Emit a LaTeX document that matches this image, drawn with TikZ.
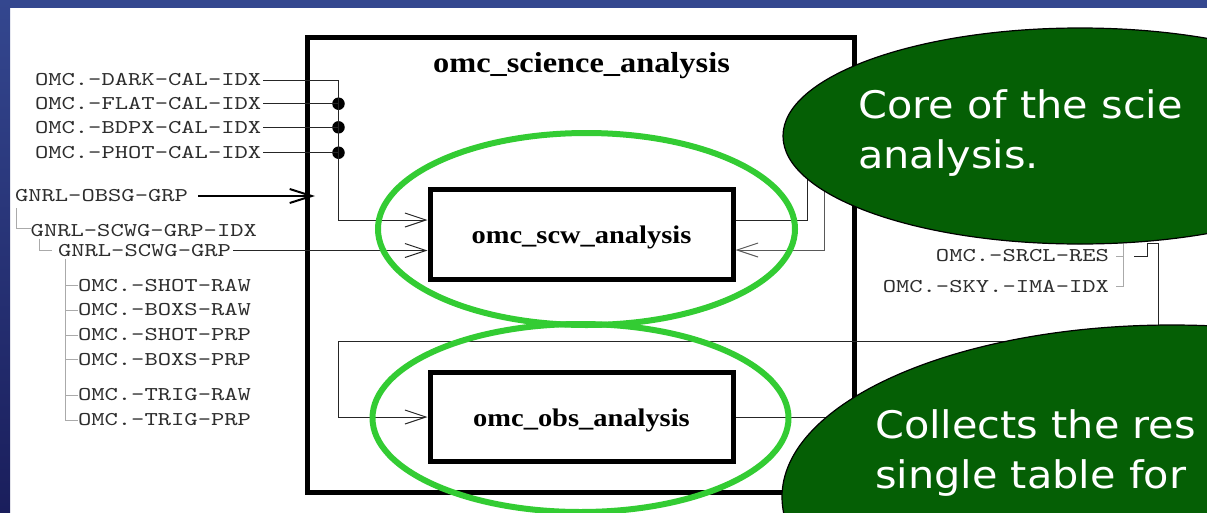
\documentclass[tikz,border=0pt]{standalone}
\usepackage{fontspec}
\usetikzlibrary{arrows.meta,shapes.geometric}
\newfontfamily\lblfont[FakeStretch=1.3]{lmmono10-regular.otf}
\newfontfamily\boxfont[FakeStretch=1.12]{Liberation Serif}
\newfontfamily\callfont[FakeStretch=1.09]{DejaVu Sans}
\definecolor{slideblue}{RGB}{52,71,143}
\definecolor{slidedark}{RGB}{26,30,92}
\definecolor{hilite}{RGB}{51,204,51}
\definecolor{callgreen}{RGB}{5,95,5}
\definecolor{treegray}{RGB}{170,170,170}
\definecolor{lbltext}{RGB}{45,45,45}
\tikzset{
  lbl/.style={font=\lblfont\fontsize{19.5}{24}\selectfont, text=lbltext, inner sep=0pt, outer sep=0pt},
  conn/.style={draw=black!85, line width=1pt},
  tip/.style={-{Straight Barb[length=21pt,width=14pt]}},
  bigtip/.style={line width=2pt, -{Straight Barb[length=22pt,width=14pt]}},
  tree/.style={draw=treegray, line width=1pt},
  procbox/.style={draw, fill=white, line width=5pt, minimum width=303pt, minimum height=89.5pt,
    font=\boxfont\bfseries\fontsize{25.4}{30}\selectfont, inner sep=0pt, text height=18pt, text depth=0pt},
  hl/.style={draw=hilite, line width=6pt},
  callout/.style={ellipse, draw=black, line width=1.2pt, fill=callgreen, inner sep=0pt},
  calltext/.style={text=white, font=\callfont\fontsize{38}{50}\selectfont, inner sep=0pt, anchor=base west},
  jdot/.style={circle, fill=black, inner sep=0pt, minimum size=12.5pt}
}
\begin{document}
\begin{tikzpicture}[x=1pt,y=-1pt]
\useasboundingbox (0,0) rectangle (1207,512);
\clip (0,0) rectangle (1207,512);
% slide background
\fill[white] (0,0) rectangle (1207,512);
\fill[slideblue] (0,0) rectangle (1207,8);
\shade[top color=slideblue, bottom color=slidedark] (0,0) rectangle (10,512);

% main process box
\node[draw, line width=5pt, minimum width=547pt, minimum height=455pt, inner sep=0pt] (sci) at (581,265) {};
\node[font=\boxfont\bfseries\fontsize{28.9}{34}\selectfont, anchor=base, inner sep=0pt] (scititle) at (581.5,72) {omc\_science\_analysis};

% sub processes
\node[procbox] (scw) at (581.5,234.25) {omc\_scw\_analysis};
\node[procbox] (obs) at (581.5,417) {omc\_obs\_analysis};

% left calibration inputs
\node[lbl, anchor=west] (dark) at (35,80) {OMC.-DARK-CAL-IDX};
\node[lbl, anchor=west] (flat) at (35,103.7) {OMC.-FLAT-CAL-IDX};
\node[lbl, anchor=west] (bdpx) at (35,127.3) {OMC.-BDPX-CAL-IDX};
\node[lbl, anchor=west] (phot) at (35,152.7) {OMC.-PHOT-CAL-IDX};
\node[jdot] (jflat) at (338.5,103.7) {};
\node[jdot] (jbdpx) at (338.5,127.3) {};
\node[jdot] (jphot) at (338.5,152.7) {};
\coordinate (cdark) at (338.5,80);
\coordinate (cin1) at (338.5,220);
\draw[conn, tip] ([xshift=2pt]dark.east) -- (cdark) -- (cin1) -- (cin1 -| scw.west);
\draw[conn] ([xshift=2pt]flat.east) -- (jflat.center);
\draw[conn] ([xshift=2pt]bdpx.east) -- (jbdpx.center);
\draw[conn] ([xshift=2pt]phot.east) -- (jphot.center);

% group inputs
\node[lbl, anchor=west] (obsg) at (15,196) {GNRL-OBSG-GRP};
\node[lbl, anchor=west] (scwgidx) at (30.7,230.5) {GNRL-SCWG-GRP-IDX};
\node[lbl, anchor=west] (scwg) at (58,250.5) {GNRL-SCWG-GRP};
\draw[black, bigtip] ([xshift=10pt]obsg.east) -- ([xshift=10pt]obsg.east -| sci.west);
\draw[conn, tip] ([xshift=2pt]scwg.east) -- (scwg.east -| scw.west);
\draw[tree] ([xshift=1pt,yshift=-6pt]obsg.south west) |- ([yshift=2pt]scwgidx.west);
\draw[tree] ([xshift=8.6pt,yshift=-2pt]scwgidx.south west) |- ([xshift=-6pt]scwg.west);

\node[lbl, anchor=west] (shotraw) at (78,285.5) {OMC.-SHOT-RAW};
\node[lbl, anchor=west] (boxsraw) at (78,310) {OMC.-BOXS-RAW};
\node[lbl, anchor=west] (shotprp) at (78,335) {OMC.-SHOT-PRP};
\node[lbl, anchor=west] (boxsprp) at (78,359.3) {OMC.-BOXS-PRP};
\node[lbl, anchor=west] (trigraw) at (78,395) {OMC.-TRIG-RAW};
\node[lbl, anchor=west] (trigprp) at (78,420) {OMC.-TRIG-PRP};
\draw[tree] ([xshift=7.7pt,yshift=-2pt]scwg.south west) |- (trigprp.west);
\foreach \n in {shotraw,boxsraw,shotprp,boxsprp,trigraw}
  \draw[tree] (\n.west) -- ++(-12.3,0);

% scw outputs / right-hand input
\coordinate (so1) at (807,220);
\coordinate (scwout) at (807,150);
\draw[conn] (so1 -| scw.east) -- (so1) -- (scwout);
\coordinate (si0) at (824,150);
\coordinate (si1) at (824,250);
\draw[conn, draw=black!65, tip] (si0) -- (si1) -- (si1 -| scw.east);

% right outputs
\node[lbl, anchor=east, inner xsep=7pt] (srcl) at (1116,256) {OMC.-SRCL-RES};
\node[lbl, anchor=east, inner xsep=7pt] (sky) at (1116,286.5) {OMC.-SKY.-IMA-IDX};
\coordinate (rtop) at (1123,230);
\draw[tree] (srcl.east) -- (srcl.east -| rtop);
\draw[tree] (rtop) |- (sky.east);

% obs input loop
\coordinate (ro1) at (1134,256);
\coordinate (ro2) at (1147,256);
\coordinate (ro3) at (1147,243);
\coordinate (ro4) at (1158,243);
\coordinate (ro5) at (1158,341);
\coordinate (ro6) at (338.5,341);
\coordinate (ro7) at (338.5,417);
\draw[conn, tip] (ro1) -- (ro2) -- (ro3) -- (ro4) -- (ro5) -- (ro6) -- (ro7) -- (obs.west);
\coordinate (oout) at (900,417);
\draw[conn] (obs.east) -- (oout);

% highlight ellipses
\draw[hl] (586.5,229) ellipse [x radius=208.5pt, y radius=96pt];
\draw[hl] (580.5,418) ellipse [x radius=208pt, y radius=94pt];

% callouts (cut by the right edge of the slide)
\node[callout, minimum width=594pt, minimum height=216pt] (call1) at (1080,136) {};
\node[calltext] (call1txt) at (858,118.3) {\begin{tabular}[t]{@{}l@{}}Core of the scie\\analysis.\end{tabular}};
\node[callout, minimum width=780pt, minimum height=344pt] (call2) at (1172,497) {};
\node[calltext] (call2txt) at (875,438.3) {\begin{tabular}[t]{@{}l@{}}Collects the res\\single table for\end{tabular}};
\end{tikzpicture}
\end{document}
